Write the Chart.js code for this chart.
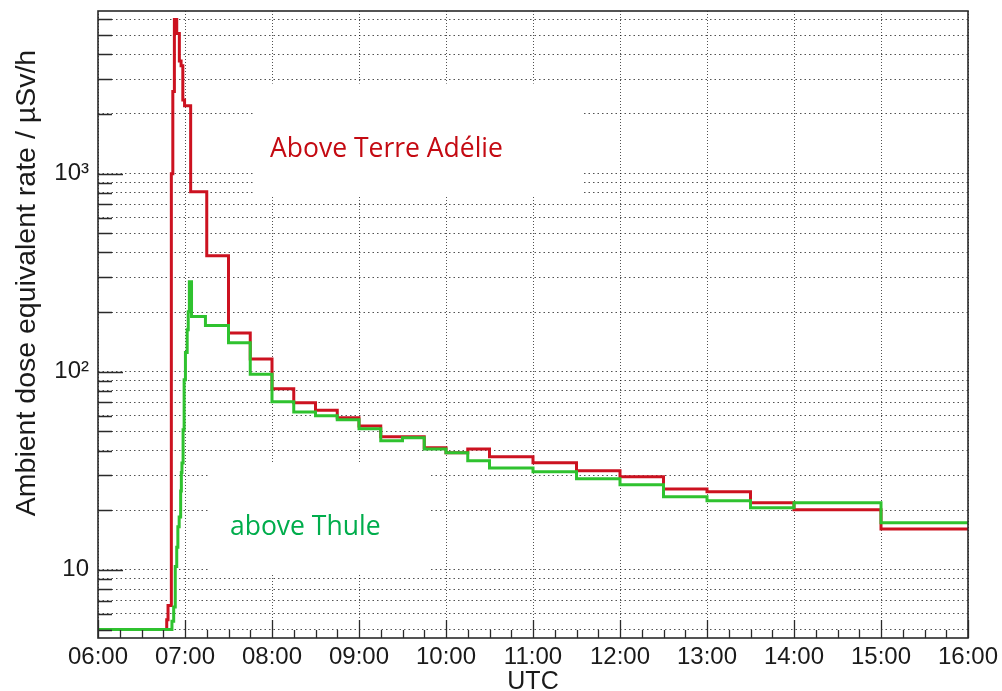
<!DOCTYPE html>
<html>
<head>
<meta charset="utf-8">
<script src="https://cdn.jsdelivr.net/npm/chart.js@4/dist/chart.umd.min.js"></script>
<style>
  html, body { margin: 0; padding: 0; background: #ffffff; }
  canvas { display: block; }
</style>
</head>
<body>
<canvas id="doseChart" width="1002" height="691"></canvas>
<script>
// Ambient dose equivalent rate (µSv/h) versus time (UTC, decimal hours).
// Each value holds from its time until the next time in the list.
const terreAdelieTimes = [6.000, 6.790, 6.805, 6.843, 6.860, 6.878, 6.905, 6.935, 6.955, 6.975, 6.995,
  7.065, 7.250, 7.500, 7.750, 8.000, 8.250, 8.500, 8.750, 9.000, 9.250, 9.750, 10.000, 10.250, 10.500,
  11.000, 11.500, 12.000, 12.500, 13.000, 13.500, 14.000, 15.000, 16.000];
const terreAdelieDoses = [5.0, 5.6, 6.6, 1000, 2600, 6000, 5100, 3700, 3500, 2350, 2200,
  811, 385, 157, 116, 82, 69.7, 64, 58.6, 53.3, 47, 41.3, 39, 40.8, 37.2,
  34.7, 31.6, 29.5, 25.6, 24.8, 21.8, 20.1, 16.1, 16.1];

const thuleTimes = [6.000, 6.850, 6.870, 6.888, 6.905, 6.918, 6.933, 6.950, 6.958, 6.965, 6.978, 6.990,
  7.005, 7.025, 7.037, 7.050, 7.075, 7.235, 7.500, 7.750, 8.000, 8.250, 8.500, 8.750, 9.000, 9.250,
  9.500, 9.750, 10.000, 10.250, 10.500, 11.000, 11.500, 12.000, 12.500, 13.000, 13.500, 14.000, 15.000, 16.000];
const thuleDoses = [5.0, 5.5, 6.5, 10.4, 13, 16.5, 18.5, 25, 31, 34.6, 51, 91,
  125, 163, 201, 285, 190, 171, 140, 97, 70.6, 62.7, 60, 57.2, 51.6, 44.8,
  46.4, 40.8, 39, 35.5, 32.7, 31.3, 28.8, 26.9, 23.4, 22.3, 20.6, 21.8, 17.3, 17.3];

const seriesNames = ['above Thule', 'Above Terre Adélie'];

// Axis ticks
const hourTicks = [6, 7, 8, 9, 10, 11, 12, 13, 14, 15, 16];
const doseGridValues = [5, 6, 7, 8, 9, 10, 20, 30, 40, 50, 60, 70, 80, 90,
  100, 200, 300, 400, 500, 600, 700, 800, 900, 1000, 2000, 3000, 4000, 5000, 6000];
const doseTickLabels = { 10: '10', 100: '10²', 1000: '10³' };
const axisTitles = { x: 'UTC', y: 'Ambient dose equivalent rate / µSv/h' };

const toPoints = (times, values) => times.map((t, i) => ({ x: t, y: values[i] }));

const AXIS_FONT = '"Liberation Sans", Arial, Helvetica, sans-serif';
const NOTE_FONT = '"Open Sans", "Noto Sans", sans-serif';

// White label boxes with the series names, drawn over the grid
const noteBoxes = {
  id: 'noteBoxes',
  beforeDatasetsDraw(chart, args, opts) {
    const { ctx, scales: { x, y } } = chart;
    ctx.save();
    opts.items.forEach(n => {
      const x0 = x.getPixelForValue(n.box[0]);
      const x1 = x.getPixelForValue(n.box[1]);
      const y0 = y.getPixelForValue(n.box[2]);
      const y1 = y.getPixelForValue(n.box[3]);
      ctx.fillStyle = '#ffffff';
      ctx.fillRect(x0, y0, x1 - x0, y1 - y0);
      ctx.fillStyle = n.color;
      ctx.font = '26.5px ' + NOTE_FONT;
      ctx.textAlign = 'left';
      ctx.textBaseline = 'alphabetic';
      ctx.fillText(n.text, x.getPixelForValue(n.at[0]), y.getPixelForValue(n.at[1]));
    });
    ctx.restore();
  }
};

// Plot frame, inward tick marks and axis titles
const frameAndTitles = {
  id: 'frameAndTitles',
  afterDatasetsDraw(chart) {
    const { ctx, chartArea: a, scales: { x, y } } = chart;
    ctx.save();
    ctx.strokeStyle = '#2a2a2a';
    ctx.lineWidth = 1.3;
    ctx.beginPath();
    for (let m = 0; m <= 600; m += 15) {
      const px = Math.round(x.getPixelForValue(6 + m / 60)) + 0.5;
      const len = m % 60 === 0 ? 18 : 8;
      ctx.moveTo(px, a.bottom);
      ctx.lineTo(px, a.bottom - len);
    }
    doseGridValues.forEach(v => {
      const py = Math.round(y.getPixelForValue(v)) + 0.5;
      const len = doseTickLabels[v] ? 25 : 14;
      ctx.moveTo(a.left, py);
      ctx.lineTo(a.left + len, py);
    });
    ctx.stroke();
    ctx.lineWidth = 1.6;
    ctx.strokeRect(a.left, a.top, a.right - a.left, a.bottom - a.top);

    ctx.fillStyle = '#1a1a1a';
    ctx.textBaseline = 'alphabetic';
    ctx.textAlign = 'center';
    ctx.font = '25px ' + AXIS_FONT;
    ctx.fillText(axisTitles.x, (a.left + a.right) / 2, 689);

    ctx.font = '28.5px ' + AXIS_FONT;
    ctx.translate(35, 283);
    ctx.rotate(-Math.PI / 2);
    ctx.fillText(axisTitles.y, 0, 0);
    ctx.restore();
  }
};

const gridStyle = { color: 'rgba(0,0,0,0.68)', lineWidth: 1, drawTicks: false };

new Chart(document.getElementById('doseChart'), {
  type: 'line',
  data: {
    datasets: [
      {
        label: seriesNames[0],
        data: toPoints(thuleTimes, thuleDoses),
        borderColor: '#2fc22f',
        borderWidth: 3,
        stepped: true,
        pointRadius: 0,
        fill: false
      },
      {
        label: seriesNames[1],
        data: toPoints(terreAdelieTimes, terreAdelieDoses),
        borderColor: '#cc1220',
        borderWidth: 3,
        stepped: true,
        pointRadius: 0,
        fill: false
      }
    ]
  },
  options: {
    responsive: false,
    animation: false,
    devicePixelRatio: 1,
    layout: { padding: { top: 11, right: 34, left: 0, bottom: 0 } },
    plugins: {
      legend: { display: false },
      tooltip: { enabled: false },
      noteBoxes: {
        items: [
          { text: seriesNames[1], color: '#c40a12', box: [7.793, 11.575, 2848, 766], at: [7.977, 1219] },
          { text: seriesNames[0], color: '#00ad4c', box: [7.264, 9.816, 34.7, 9.55], at: [7.517, 15.0] }
        ]
      }
    },
    scales: {
      x: {
        type: 'linear',
        min: 6,
        max: 16,
        afterBuildTicks: s => { s.ticks = hourTicks.map(v => ({ value: v })); },
        afterFit: s => { s.height = 53; s.paddingLeft = 0; s.paddingRight = 0; },
        ticks: {
          autoSkip: false,
          maxRotation: 0,
          padding: 5,
          color: '#1a1a1a',
          font: { family: AXIS_FONT, size: 24 },
          callback: v => String(v).padStart(2, '0') + ':00'
        },
        grid: gridStyle,
        border: { display: false, dash: [1, 2] }
      },
      y: {
        type: 'logarithmic',
        min: 4.53,
        max: 6620,
        afterBuildTicks: s => { s.ticks = doseGridValues.map(v => ({ value: v })); },
        afterFit: s => { s.width = 98; s.paddingTop = 0; s.paddingBottom = 0; },
        ticks: {
          autoSkip: false,
          padding: 9,
          color: '#1a1a1a',
          font: { family: AXIS_FONT, size: 24 },
          callback: v => doseTickLabels[v] || ''
        },
        grid: gridStyle,
        border: { display: false, dash: [1.5, 3] }
      }
    }
  },
  plugins: [noteBoxes, frameAndTitles]
});
</script>
</body>
</html>
